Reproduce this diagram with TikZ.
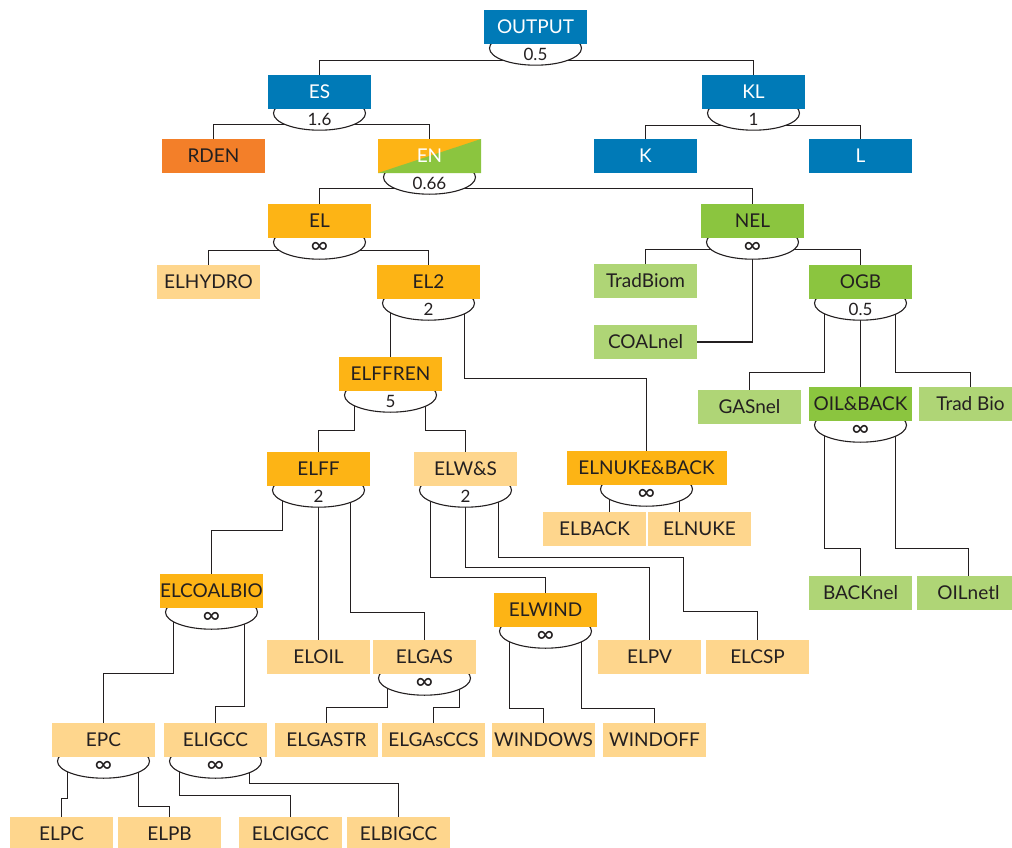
\documentclass[tikz,border=0pt]{standalone}
\usepackage{fontspec}
\setmainfont{Lato}
\usepackage{tikz}
\usetikzlibrary{shapes,backgrounds,positioning}

\definecolor{CGEBlue}{RGB}{0,122,183}
\definecolor{CGEOrange}{RGB}{243,127,41}
\definecolor{CGEAmber}{RGB}{253,180,21}
\definecolor{CGESand}{RGB}{254,214,141}
\definecolor{CGEGreen}{RGB}{139,197,63}
\definecolor{CGEMoss}{RGB}{175,213,118}
\definecolor{Ink}{RGB}{35,31,32}

\newcommand{\BoxFont}{\fontsize{19}{22}\selectfont}
\newcommand{\NestFont}{\fontsize{17}{20}\selectfont}
\newcommand{\Inf}{{\fontsize{24}{24}\selectfont ∞}}

\begin{document}
\begin{tikzpicture}[x=1pt,y=-1pt]
			\tikzstyle{Box}		= [rectangle, minimum width=103pt, minimum height=34pt, inner xsep=-10pt, inner ysep=0pt, font=\BoxFont, text=Ink]
			\tikzstyle{Top}		= [fill=CGEBlue, text=white]
			\tikzstyle{RD}		= [fill=CGEOrange]
			\tikzstyle{ElecA}	= [fill=CGEAmber]
			\tikzstyle{ElecB}	= [fill=CGESand]
			\tikzstyle{NelA}	= [fill=CGEGreen]
			\tikzstyle{NelB}	= [fill=CGEMoss]
			\tikzstyle{Split}	= [fill=CGEAmber, text=white, path picture={\fill[CGEGreen] (path picture bounding box.south west) -- (path picture bounding box.south east) -- (path picture bounding box.north east) -- cycle;}]
			\tikzstyle{Nest}	= [ellipse, draw=Ink, fill=white, line width=1.1pt, minimum width=92pt, minimum height=34pt, inner sep=0pt]
			\tikzstyle{Sigma}	= [inner sep=0pt, font=\NestFont, text=Ink]
			\tikzstyle{Link}	= [draw=Ink, line width=1.1pt]

			\useasboundingbox (0,0) rectangle (1012,848);

			% top of the tree
			\node (OUTPUT) at (535.5,27) [Box][Top] {OUTPUT};
			\node (ES) at (319.5,92) [Box][Top] {ES};
			\node (KL) at (753.5,92) [Box][Top] {KL};
			\node (RDEN) at (213.5,156) [Box][RD] {RDEN};
			\node (EN) at (429.5,156) [Box][Split] {EN};
			\node (K) at (645.5,156) [Box][Top] {K};
			\node (L) at (860.5,156) [Box][Top] {L};
			\node (EL) at (319.5,221) [Box][ElecA] {EL};
			\node (NEL) at (752.5,221) [Box][NelA] {NEL};

			% electricity
			\node (ELHYDRO) at (208.5,282) [Box][ElecB] {ELHYDRO};
			\node (EL2) at (428.5,282) [Box][ElecA] {EL2};
			\node (ELFFREN) at (390.5,374) [Box][ElecA] {ELFFREN};
			\node (ELFF) at (318.5,469) [Box][ElecA] {ELFF};
			\node (ELWS) at (465.5,469) [Box][ElecB] {ELW\&S};
			\node (ELNUKEBACK) at (646.5,468) [Box][ElecA][minimum width=160pt] {ELNUKE\&BACK};
			\node (ELBACK) at (594.5,529) [Box][ElecB] {ELBACK};
			\node (ELNUKE) at (699.5,529) [Box][ElecB] {ELNUKE};
			\node (ELCOALBIO) at (211.5,591) [Box][ElecA] {ELCOALBIO};
			\node (ELWIND) at (545.5,610) [Box][ElecA] {ELWIND};
			\node (ELOIL) at (318.5,657) [Box][ElecB] {ELOIL};
			\node (ELGAS) at (424.5,657) [Box][ElecB] {ELGAS};
			\node (ELPV) at (649.5,657) [Box][ElecB] {ELPV};
			\node (ELCSP) at (757.5,657) [Box][ElecB] {ELCSP};
			\node (EPC) at (103.5,740) [Box][ElecB] {EPC};
			\node (ELIGCC) at (215.5,740) [Box][ElecB] {ELIGCC};
			\node (ELGASTR) at (326.5,740) [Box][ElecB] {ELGASTR};
			\node (ELGAsCCS) at (433.5,740) [Box][ElecB] {ELGAsCCS};
			\node (WINDOWS) at (543.5,740) [Box][ElecB] {WINDOWS};
			\node (WINDOFF) at (654.5,740) [Box][ElecB] {WINDOFF};
			\node (ELPC) at (61.5,834) [Box][ElecB] {ELPC};
			\node (ELPB) at (169.5,834) [Box][ElecB] {ELPB};
			\node (ELCIGCC) at (290.5,834) [Box][ElecB] {ELCIGCC};
			\node (ELBIGCC) at (398.5,834) [Box][ElecB] {ELBIGCC};

			% non electricity
			\node (TradBiom) at (645.5,281) [Box][NelB] {TradBiom};
			\node (OGB) at (860.5,282) [Box][NelA] {OGB};
			\node (COALnel) at (645.5,342) [Box][NelB] {COALnel};
			\node (GASnel) at (749.5,407) [Box][NelB] {GASnel};
			\node (OILBACK) at (860.5,404) [Box][NelA] {OIL\&BACK};
			\node (TradBio) at (970.5,404) [Box][NelB] {Trad Bio};
			\node (BACKnel) at (860.5,593) [Box][NelB] {BACKnel};
			\node (OILnetl) at (968.5,593) [Box][NelB] {OILnetl};

			\begin{scope}[on background layer]
				\draw [-] ([yshift=-16pt]OUTPUT.south) -| (ES) [Link];
				\draw [-] ([yshift=-16pt]OUTPUT.south) -| (KL) [Link];
				\draw [-] ([yshift=-15pt]ES.south) -| (RDEN) [Link];
				\draw [-] ([yshift=-15pt]ES.south) -| (EN) [Link];
				\draw [-] ([yshift=-16pt]KL.south) -| (K) [Link];
				\draw [-] ([yshift=-16pt]KL.south) -| (L) [Link];
				\draw [-] ([yshift=-15pt]EN.south) -| (EL) [Link];
				\draw [-] ([yshift=-15pt]EN.south) -| (NEL) [Link];
				\draw [-] ([yshift=-12pt]EL.south) -| (ELHYDRO) [Link];
				\draw [-] ([yshift=-12pt]EL.south) -| (EL2) [Link];
				\draw [-] ([yshift=-11pt]NEL.south) -| (TradBiom) [Link];
				\draw [-] ([yshift=-11pt]NEL.south) -| (OGB) [Link];
				\draw [-] (NEL.south) |- (COALnel) [Link];
				\draw [-] (EL2.south -| ELFFREN) -- (ELFFREN) [Link];
				\draw [-] ([xshift=36pt]EL2.south) -- ++(0,79) -| (ELNUKEBACK) [Link];
				\draw [-] ([xshift=-36pt]ELFFREN.south) -- ++(0,39) -| (ELFF) [Link];
				\draw [-] ([xshift=35pt]ELFFREN.south) -- ++(0,39) -| (ELWS) [Link];
				\draw [-] ([xshift=-37pt]ELNUKEBACK.south) |- (ELBACK) [Link];
				\draw [-] ([xshift=33pt]ELNUKEBACK.south) |- (ELNUKE) [Link];
				\draw [-] ([xshift=-36pt]ELFF.south) -- ++(0,44) -| (ELCOALBIO) [Link];
				\draw [-] (ELFF.south) -- (ELOIL) [Link];
				\draw [-] ([xshift=32pt]ELFF.south) -- ++(0,126) -| (ELGAS) [Link];
				\draw [-] ([xshift=-35pt]ELWS.south) -- ++(0,91) -| (ELWIND) [Link];
				\draw [-] (ELWS.south) -- ++(0,81) -| (ELPV) [Link];
				\draw [-] ([xshift=33pt]ELWS.south) -- ++(0,71) -- ++(185,0) -- ++(0,54) -| (ELCSP) [Link];
				\draw [-] ([xshift=-36pt]ELWIND.south) -- ++(0,81) -| (WINDOWS) [Link];
				\draw [-] ([xshift=36pt]ELWIND.south) -- ++(0,81) -| (WINDOFF) [Link];
				\draw [-] ([xshift=-38pt]ELCOALBIO.south) -- ++(0,65) -| (EPC) [Link];
				\draw [-] ([xshift=33pt]ELCOALBIO.south) -- ++(0,98) -| (ELIGCC) [Link];
				\draw [-] ([xshift=-37pt]ELGAS.south) -- ++(0,33) -| (ELGASTR) [Link];
				\draw [-] ([xshift=35pt]ELGAS.south) -- ++(0,33) -| (ELGAsCCS) [Link];
				\draw [-] ([xshift=-36pt]EPC.south) -- ++(0,41) -| (ELPC) [Link];
				\draw [-] ([xshift=35pt]EPC.south) -- ++(0,49) -| (ELPB) [Link];
				\draw [-] ([xshift=-36pt]ELIGCC.south) -- ++(0,38) -| (ELCIGCC) [Link];
				\draw [-] ([xshift=34pt]ELIGCC.south) -- ++(0,26) -| (ELBIGCC) [Link];
				\draw [-] ([xshift=-36pt]OGB.south) -- ++(0,73) -| (GASnel) [Link];
				\draw [-] (OGB.south) -- (OILBACK) [Link];
				\draw [-] ([xshift=35pt]OGB.south) -- ++(0,73) -| (TradBio) [Link];
				\draw [-] ([xshift=-36pt]OILBACK.south) -- ++(0,127) -| (BACKnel) [Link];
				\draw [-] ([xshift=35pt]OILBACK.south) -- ++(0,127) -| (OILnetl) [Link];

				% nests under the parents
				\node (OUTPUTn) at ([yshift=-4pt]OUTPUT.south) [Nest] {};
				\node (ESn) at ([yshift=-4pt]ES.south) [Nest] {};
				\node (KLn) at ([yshift=-4pt]KL.south) [Nest] {};
				\node (ENn) at ([yshift=-4pt]EN.south) [Nest] {};
				\node (ELn) at ([yshift=-4pt]EL.south) [Nest] {};
				\node (NELn) at ([yshift=-4pt]NEL.south) [Nest] {};
				\node (EL2n) at ([yshift=-4pt]EL2.south) [Nest] {};
				\node (OGBn) at ([yshift=-4pt]OGB.south) [Nest] {};
				\node (ELFFRENn) at ([yshift=-4pt]ELFFREN.south) [Nest] {};
				\node (ELFFn) at ([yshift=-4pt]ELFF.south) [Nest] {};
				\node (ELWSn) at ([yshift=-4pt]ELWS.south) [Nest] {};
				\node (ELNUKEBACKn) at ([yshift=-4pt]ELNUKEBACK.south) [Nest] {};
				\node (OILBACKn) at ([yshift=-4pt]OILBACK.south) [Nest] {};
				\node (ELCOALBIOn) at ([yshift=-4pt]ELCOALBIO.south) [Nest] {};
				\node (ELWINDn) at ([yshift=-4pt]ELWIND.south) [Nest] {};
				\node (ELGASn) at ([yshift=-4pt]ELGAS.south) [Nest] {};
				\node (EPCn) at ([yshift=-4pt]EPC.south) [Nest] {};
				\node (ELIGCCn) at ([yshift=-4pt]ELIGCC.south) [Nest] {};
			\end{scope}

			% elasticities
			\node (OUTPUTs) at ([yshift=-10pt]OUTPUT.south) [Sigma] {0.5};
			\node (ESs) at ([yshift=-10pt]ES.south) [Sigma] {1.6};
			\node (KLs) at ([yshift=-10pt]KL.south) [Sigma] {1};
			\node (ENs) at ([yshift=-10pt]EN.south) [Sigma] {0.66};
			\node (ELs) at ([yshift=-10pt]EL.south) [Sigma] {\Inf};
			\node (NELs) at ([yshift=-10pt]NEL.south) [Sigma] {\Inf};
			\node (EL2s) at ([yshift=-10pt]EL2.south) [Sigma] {2};
			\node (OGBs) at ([yshift=-10pt]OGB.south) [Sigma] {0.5};
			\node (ELFFRENs) at ([yshift=-10pt]ELFFREN.south) [Sigma] {5};
			\node (ELFFs) at ([yshift=-10pt]ELFF.south) [Sigma] {2};
			\node (ELWSs) at ([yshift=-10pt]ELWS.south) [Sigma] {2};
			\node (ELNUKEBACKs) at ([yshift=-10pt]ELNUKEBACK.south) [Sigma] {\Inf};
			\node (OILBACKs) at ([yshift=-10pt]OILBACK.south) [Sigma] {\Inf};
			\node (ELCOALBIOs) at ([yshift=-10pt]ELCOALBIO.south) [Sigma] {\Inf};
			\node (ELWINDs) at ([yshift=-10pt]ELWIND.south) [Sigma] {\Inf};
			\node (ELGASs) at ([yshift=-10pt]ELGAS.south) [Sigma] {\Inf};
			\node (EPCs) at ([yshift=-10pt]EPC.south) [Sigma] {\Inf};
			\node (ELIGCCs) at ([yshift=-10pt]ELIGCC.south) [Sigma] {\Inf};
\end{tikzpicture}
\end{document}
